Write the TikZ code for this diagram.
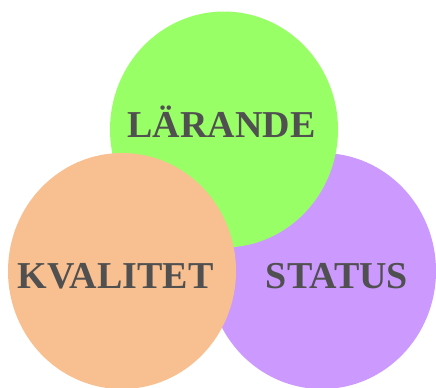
\documentclass[tikz,border=0pt]{standalone}
\usepackage{fontspec}
\setmainfont{Liberation Serif}
\usetikzlibrary{shapes.geometric}
\definecolor{cgreen}{HTML}{99FF66}
\definecolor{cpurple}{HTML}{CC99FF}
\definecolor{corange}{HTML}{F8C090}
\definecolor{ctext}{HTML}{505050}
\begin{document}
\begin{tikzpicture}[x=1bp,y=-1bp,
  blob/.style={ellipse, draw=none, inner sep=0pt, minimum width=228bp, minimum height=236bp},
  lbl/.style={anchor=base, inner sep=0pt, text=ctext, font=\fontsize{38bp}{41bp}\selectfont\bfseries}]
\useasboundingbox (0,0) rectangle (436,387);
\node[blob, fill=cpurple] (status) at (322,271) {};
\node[blob, fill=cgreen] (larande) at (224,129.5) {};
\node[blob, fill=corange] (kvalitet) at (122,271) {};
\node[lbl] (tl) at (221.5,137) {LÄRANDE};
\node[lbl] (tk) at (115.5,288) {KVALITET};
\node[lbl] (ts) at (337,288) {STATUS};
\end{tikzpicture}
\end{document}
